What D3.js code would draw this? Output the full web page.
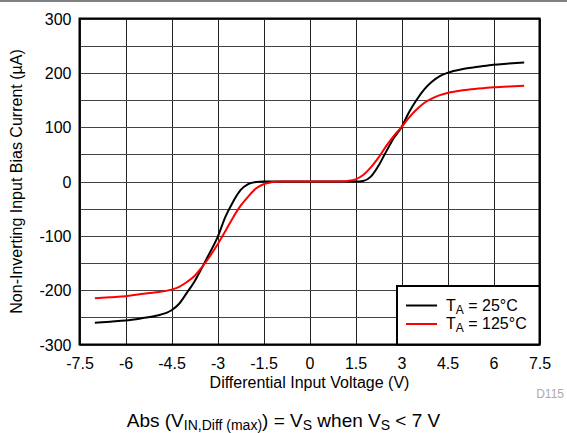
<!DOCTYPE html>
<html><head><meta charset="utf-8">
<script src="https://cdn.jsdelivr.net/npm/d3@7"></script>
<style>
body{margin:0;background:#fff;}
svg{display:block;font-family:"Liberation Sans",Arial,Helvetica,sans-serif;}
</style></head>
<body>
<svg id="chart" width="567" height="433"></svg>
<script>
const voltage = [-7,-6.5,-6,-5.5,-5,-4.5,-4.25,-4,-3.75,-3.5,-3.25,-3,-2.75,-2.5,-2.25,-2,-1.75,-1.5,-1.25,-1,0,1,1.25,1.5,1.75,2,2.25,2.5,2.75,3,3.25,3.5,3.75,4,4.25,4.5,5,5.5,6,6.5,7];
const current25 = [-260,-258,-256,-252,-247,-237,-225,-205,-184,-158,-131,-103,-66,-38,-16,-5,-1,0,0,0,0,0,0,0,1,9,29,55,80,100,128,151,170,184,194,200,207,211,215,217,219];
const current125 = [-215,-213,-211,-207,-204,-199,-194,-185,-174,-157,-138,-116,-92,-67,-45,-28,-13,-5,-1.5,0,0,0,1,4,12,26,44,65,84,100,118,133,145,153,159,163,168,171,173.5,175,176];
const xTicks = [-7.5,-6,-4.5,-3,-1.5,0,1.5,3,4.5,6,7.5];
const yTicks = [-300,-200,-100,0,100,200,300];
const yGrid = [-300,-250,-200,-150,-100,-50,0,50,100,150,200,250,300];
const seriesNames = ["25°C","125°C"];
const seriesColors = ["#000000","#ff0000"];

const svg = d3.select("#chart");
const L = 79.5, R = 539.5, T = 18.5, B = 344.5;
const x = d3.scaleLinear().domain([-7.5,7.5]).range([L,R]);
const y = d3.scaleLinear().domain([-300,300]).range([B,T]);
const FS = 16;

// top grey bar
svg.append("rect").attr("x",0).attr("y",0).attr("width",567).attr("height",2).attr("fill","#808080");

// grid
const g = svg.append("g");
g.selectAll("line.v").data(xTicks).join("line")
  .attr("x1",d=>Math.round(x(d))+0.5).attr("x2",d=>Math.round(x(d))+0.5)
  .attr("y1",T).attr("y2",B).attr("stroke","#222").attr("stroke-width",1);
g.selectAll("line.h").data(yGrid).join("line")
  .attr("y1",d=>Math.round(y(d))+0.5).attr("y2",d=>Math.round(y(d))+0.5)
  .attr("x1",L).attr("x2",R).attr("stroke","#444").attr("stroke-width",1);

// axes labels via d3 axes
const xAxis = d3.axisBottom(x).tickValues(xTicks).tickSize(0).tickPadding(0).tickFormat(d=>String(d));
const yAxis = d3.axisLeft(y).tickValues(yTicks).tickSize(0).tickPadding(8).tickFormat(d=>String(d));
const gx = svg.append("g").attr("transform",`translate(0,${B})`).call(xAxis);
const gy = svg.append("g").attr("transform",`translate(${L},0)`).call(yAxis);
[gx,gy].forEach(a=>{a.select(".domain").remove();a.selectAll("text").attr("font-size",FS).attr("fill","#000").attr("font-family","Liberation Sans, Arial, sans-serif");});
gx.selectAll("text").attr("dy",null).attr("y",24.5);
gy.selectAll("text").attr("dy","0.36em");

// lines
const line = d3.line().x(d=>x(d[0])).y(d=>y(d[1])).curve(d3.curveMonotoneX);
[current25,current125].forEach((s,i)=>{
  svg.append("path").datum(voltage.map((v,j)=>[v,s[j]]))
    .attr("d",line).attr("fill","none").attr("stroke",seriesColors[i]).attr("stroke-width",2);
});

// frame
svg.append("rect").attr("x",L).attr("y",T).attr("width",R-L).attr("height",B-T)
  .attr("fill","none").attr("stroke","#000").attr("stroke-width",2);

// legend
const lg = svg.append("g");
lg.append("rect").attr("x",397).attr("y",286).attr("width",R-397).attr("height",B-286)
  .attr("fill","#fff").attr("stroke","#000").attr("stroke-width",2);
seriesNames.forEach((n,i)=>{
  const yy = 305.5 + i*18.5;
  lg.append("line").attr("x1",406).attr("x2",437).attr("y1",yy).attr("y2",yy)
    .attr("stroke",seriesColors[i]).attr("stroke-width",2);
  const t = lg.append("text").attr("x",446).attr("y",yy+5).attr("font-size",FS).attr("fill","#000");
  t.append("tspan").text("T");
  t.append("tspan").attr("font-size",12).attr("dy",3).text("A");
  t.append("tspan").attr("dy",-3).text(" = " + n);
});

// axis titles
svg.append("text").attr("x",(L+R)/2).attr("y",388).attr("text-anchor","middle")
  .attr("font-size",FS).text("Differential Input Voltage (V)");
svg.append("text").attr("transform",`translate(22,${(T+B)/2}) rotate(-90)`).attr("text-anchor","middle")
  .attr("font-size",FS).text("Non-Inverting Input Bias Current (µA)");
svg.append("text").attr("x",564).attr("y",398).attr("text-anchor","end")
  .attr("font-size",12).attr("fill","#aaa").text("D115");

// subtitle
const st = svg.append("text").attr("x",283.5).attr("y",426.5).attr("text-anchor","middle").attr("font-size",19);
st.append("tspan").text("Abs (V");
st.append("tspan").attr("font-size",14).attr("dy",3.5).text("IN,Diff (max)");
st.append("tspan").attr("dy",-3.5).text(") = V");
st.append("tspan").attr("font-size",14).attr("dy",3.5).text("S");
st.append("tspan").attr("dy",-3.5).text(" when V");
st.append("tspan").attr("font-size",14).attr("dy",3.5).text("S");
st.append("tspan").attr("dy",-3.5).text(" < 7 V");
</script>
</body></html>
